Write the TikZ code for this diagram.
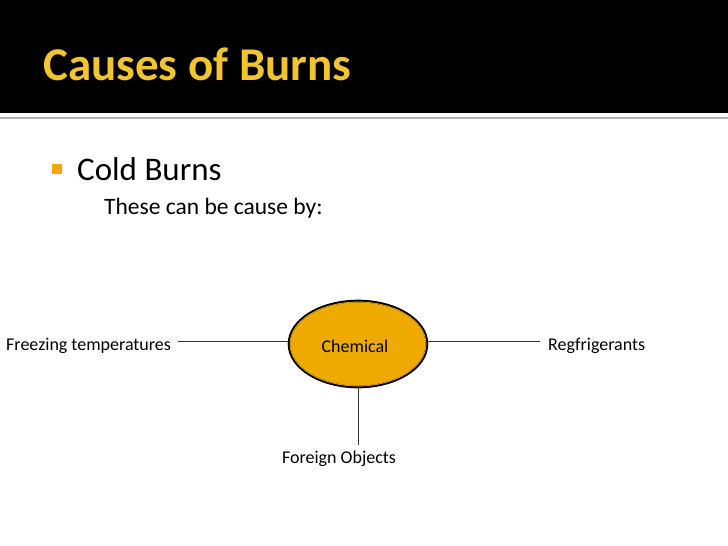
\documentclass[tikz,border=0pt]{standalone}
\usepackage{fontspec}
\setmainfont{Carlito}
\usetikzlibrary{shapes.geometric}
\definecolor{ttl}{HTML}{F2C530}
\definecolor{gold}{HTML}{EFAA00}
\begin{document}
\begin{tikzpicture}[x=1pt,y=-1pt,
  lbl/.style={font=\fontsize{18}{21}\selectfont, inner sep=0pt},
  conn/.style={draw=black!80, line width=0.8pt}]
\useasboundingbox (0,0) rectangle (728,546);
\fill[white] (0,0) rectangle (728,546);
\fill[black] (0,0) rectangle (728,113);
\draw[gray!60, line width=1.5pt] (0,118) -- (728,118);
\node[anchor=west, text=ttl, font=\fontsize{47}{56}\selectfont\bfseries, inner sep=0pt] (title) at (43,64) {Causes of Burns};
\fill[gold] (52,164) rectangle (62,174);
\node[anchor=west, font=\fontsize{33}{40}\selectfont, inner sep=0pt] (cold) at (77,169) {Cold Burns};
\node[anchor=west, font=\fontsize{23.5}{28}\selectfont, inner sep=0pt] (these) at (104,208) {These can be cause by:};
\node[draw=black, line width=2.6pt, ellipse, fill=gold, minimum width=138pt, minimum height=86pt, inner sep=0pt] (chem) at (358,344) {};
\draw[gold, line width=0.7pt] (358,344) ellipse (68pt and 42pt);
\node[lbl] at (355,346) {Chemical};
\node[lbl, anchor=west] (frz) at (6,346) {Freezing temperatures};
\node[lbl, anchor=west] (reg) at (548,346) {Regfrigerants};
\node[lbl] (for) at (339,459) {Foreign Objects};
\coordinate (l1) at (178,341);
\coordinate (r1) at (540,341);
\coordinate (b1) at (358,445);
\draw[conn] (l1) -- (chem.west |- l1);
\draw[conn] (chem.east |- r1) -- (r1);
\draw[conn] (chem.south) -- (b1);
\end{tikzpicture}
\end{document}
